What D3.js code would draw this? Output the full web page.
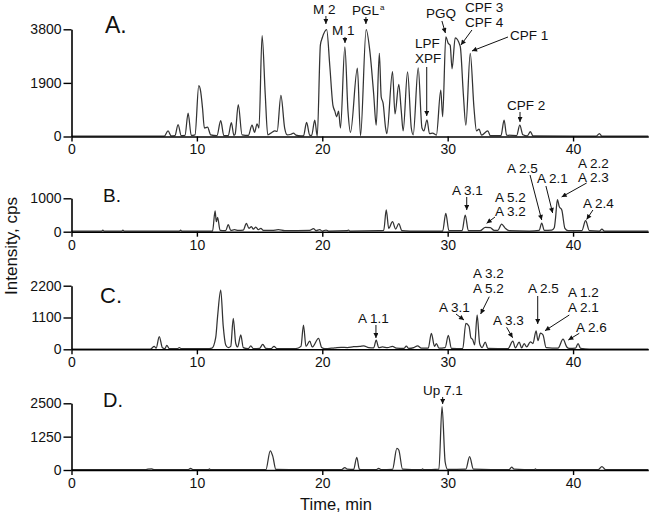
<!DOCTYPE html>
<html>
<head>
<meta charset="utf-8">
<script src="https://cdn.jsdelivr.net/npm/d3@7"></script>
<style>
  body { margin: 0; background: #fff; }
  svg { display: block; font-family: "Liberation Sans", Arial, sans-serif; }
</style>
</head>
<body>
<svg id="chart" width="650" height="515"></svg>
<script>
// retention time (min), intensity (cps)
const traceA = [
  [0, 15], [7.4, 10], [7.7, 200], [7.95, 20], [8.25, 30], [8.5, 420], [8.75, 30],
  [9.05, 40], [9.3, 830], [9.55, 40], [9.85, 60], [10.15, 1800], [10.3, 1600], [10.45, 1000],
  [10.6, 300], [10.85, 330], [11.1, 60], [11.6, 30], [11.9, 560], [12.15, 30], [12.5, 30],
  [12.75, 490], [12.95, 40], [13.05, 80], [13.3, 1130], [13.6, 60], [14.1, 40], [14.4, 400],
  [14.6, 150], [14.8, 450], [14.95, 300], [15.2, 3580], [15.45, 1500], [15.65, 60], [16.0, 150],
  [16.2, 200], [16.4, 180], [16.7, 1460], [17.0, 300], [17.2, 60], [17.5, 80], [17.7, 120],
  [17.9, 50], [18.3, 20], [18.5, 20], [18.75, 500], [19.0, 40], [19.15, 40], [19.4, 580],
  [19.6, 10], [19.85, 3250], [20.0, 3500], [20.35, 3790], [20.6, 2500], [20.85, 1100],
  [21.0, 900], [21.15, 700], [21.3, 900], [21.45, 300], [21.8, 3180], [22.05, 900], [22.25, 150],
  [22.8, 2420], [23.05, 30], [23.5, 3790], [23.8, 3000], [24.1, 1500], [24.3, 400],
  [24.55, 2950], [24.7, 1400], [24.85, 1180], [25.05, 300], [25.15, 100], [25.6, 2300],
  [25.8, 800], [26.1, 1850], [26.3, 900], [26.45, 200], [26.8, 2290], [27.1, 300], [27.25, 60],
  [27.65, 2430], [27.95, 300], [28.1, 200], [28.35, 590], [28.55, 100], [28.8, 120], [29.1, 50],
  [29.45, 1640], [29.6, 700], [29.85, 3530], [30.05, 3300], [30.2, 3230], [30.35, 2400],
  [30.6, 3500], [31.0, 3200], [31.25, 1500], [31.45, 400], [31.8, 2950], [32.1, 1000],
  [32.3, 200], [32.5, 260], [32.7, 50], [33.2, 200], [33.4, 30], [34.25, 30], [34.5, 580],
  [34.7, 50], [35.5, 30], [35.75, 400], [36.0, 60], [36.35, 20], [36.6, 170], [36.8, 20],
  [41.85, 10], [42.1, 100], [42.3, 10], [46, 10]
];

const traceB = [
  [0, 20], [2.4, 20], [2.5, 50], [2.6, 20], [4, 20], [4.1, 50], [4.2, 20], [8.6, 20], [8.7, 50],
  [8.8, 20], [11.25, 20], [11.45, 620], [11.55, 300], [11.65, 430], [11.85, 40], [12.3, 30],
  [12.5, 210], [12.7, 40], [13.0, 60], [13.3, 40], [13.7, 50], [13.95, 250], [14.15, 100],
  [14.35, 150], [14.5, 80], [14.7, 140], [14.9, 60], [15.1, 100], [15.3, 40], [16.0, 40],
  [16.5, 60], [17, 30], [19.0, 40], [19.3, 90], [19.5, 30], [19.8, 60], [20.0, 20], [20.3, 50],
  [20.5, 20], [22.0, 30], [22.1, 50], [22.2, 20], [24.5, 30], [24.9, 40], [25.1, 650],
  [25.3, 100], [25.6, 300], [25.85, 80], [26.1, 240], [26.35, 30], [27, 20], [29.6, 20],
  [29.85, 550], [30.1, 30], [31.15, 30], [31.4, 500], [31.65, 30], [32.6, 30], [33.0, 130],
  [33.4, 120], [33.7, 40], [34.0, 40], [34.3, 230], [34.6, 100], [34.9, 30], [36.5, 20],
  [37.3, 40], [37.5, 260], [37.7, 40], [38.3, 50], [38.5, 120], [38.6, 400], [38.75, 960],
  [38.9, 750], [39.1, 650], [39.35, 100], [39.6, 30], [40.7, 30], [41.0, 330], [41.3, 30],
  [42.1, 20], [42.3, 80], [42.5, 20], [46, 20]
];

const traceC = [
  [0, 10], [6.3, 10], [6.6, 100], [6.75, 40], [7.0, 440], [7.25, 50], [7.45, 20], [7.6, 140],
  [7.8, 20], [8.45, 20], [8.6, 60], [8.75, 20], [10.8, 20], [11.2, 40], [11.5, 400],
  [11.65, 1130], [11.9, 2050], [12.1, 800], [12.3, 150], [12.5, 60], [12.7, 100], [12.9, 1070],
  [13.1, 200], [13.25, 80], [13.5, 500], [13.7, 60], [14.1, 20], [14.3, 120], [14.5, 20],
  [15.0, 30], [15.25, 170], [15.5, 30], [15.9, 20], [16.15, 100], [16.4, 20], [17.9, 20],
  [18.3, 100], [18.5, 840], [18.7, 100], [19.0, 280], [19.2, 80], [19.7, 380], [19.95, 60],
  [20.2, 20], [21.0, 50], [21.5, 70], [22, 60], [22.5, 90], [23.0, 100], [23.3, 120],
  [23.7, 60], [24.1, 50], [24.3, 320], [24.5, 60], [24.8, 80], [25.2, 60], [25.6, 100],
  [25.9, 40], [26.5, 30], [26.7, 110], [26.9, 30], [27.3, 60], [27.6, 120], [27.9, 40],
  [28.45, 40], [28.7, 550], [28.95, 100], [29.1, 200], [29.3, 40], [29.8, 60], [30.05, 480],
  [30.3, 30], [31.2, 20], [31.45, 900], [31.7, 800], [31.85, 400], [32.0, 330], [32.15, 150],
  [32.35, 1190], [32.55, 200], [32.75, 60], [33.0, 250], [33.2, 30], [34.8, 20], [35.2, 280],
  [35.4, 50], [35.7, 250], [35.9, 50], [36.1, 200], [36.3, 80], [36.6, 260], [36.8, 200],
  [37.05, 640], [37.2, 300], [37.4, 560], [37.6, 500], [37.85, 60], [38.8, 40], [39.2, 350],
  [39.5, 80], [39.7, 30], [40.2, 40], [40.4, 200], [40.6, 30], [41.3, 10], [46, 10]
];

const traceD = [
  [0, 10], [5.9, 10], [6.1, 30], [6.4, 40], [6.6, 10], [9.3, 10], [9.5, 60], [9.7, 10],
  [10.9, 10], [11.0, 40], [11.1, 10], [15.5, 10], [15.85, 720], [16.05, 520], [16.3, 20],
  [21.5, 10], [21.8, 90], [22.0, 30], [22.5, 20], [22.75, 475], [22.95, 40], [23.1, 10],
  [24.3, 10], [24.5, 60], [24.7, 10], [25.6, 20], [25.95, 810], [26.1, 750], [26.4, 30],
  [27.9, 10], [28.0, 40], [28.1, 10], [29.3, 30], [29.55, 2375], [29.8, 300], [30.0, 20],
  [31.45, 30], [31.75, 500], [32.05, 30], [34.9, 10], [35.1, 110], [35.3, 30], [36.9, 10],
  [37.0, 40], [37.1, 10], [42.0, 10], [42.3, 130], [42.6, 10], [46, 10]
];

const timeTicks = [0, 10, 20, 30, 40];
const ticksA = [0, 1900, 3800];
const ticksB = [0, 1000];
const ticksC = [0, 1100, 2200];
const ticksD = [0, 1250, 2500];

// peak labels: text lines and the (time, intensity) the arrow points at
const notesA = [
  { lines: ["M 2"], at: [20.29, 3988], tail: [0, -8], label: [-13, -10] },
  { lines: ["M 1"], at: [21.81, 3315], tail: [0, -6], label: [-13, -8] },
  { lines: ["PGL"], sup: "a", at: [23.48, 3988], tail: [0, -7], label: [-14, -9] },
  { lines: ["PGQ"], at: [29.82, 3669], tail: [-3.5, -12], label: [-19.5, -15] },
  { lines: ["CPF 3", "CPF 4"], at: [31.06, 3244], tail: [11, -15], label: [4, -33] },
  { lines: ["CPF 1"], at: [31.94, 3031], tail: [36, -14], label: [38, -11] },
  { lines: ["LPF", "XPF"], at: [28.33, 727], tail: [0, -49], label: [-11.7, -68] },
  { lines: ["CPF 2"], at: [35.77, 514], tail: [0, -10], label: [-13, -12] }
];
const notesB = [
  { lines: ["A 3.1"], at: [31.52, 650], tail: [0, -13], label: [-14.7, -15] },
  { lines: ["A 5.2", "A 3.2"], at: [33.11, 251], tail: [8.3, -6.3], label: [8.3, -21.3] },
  { lines: ["A 2.5"], at: [37.5, 350], tail: [-11.7, -45], label: [-34.7, -47] },
  { lines: ["A 2.1"], at: [38.37, 560], tail: [-6.7, -27], label: [-15.7, -30] },
  { lines: ["A 2.2", "A 2.3"], at: [39.09, 1039], tail: [25, -14], label: [16.3, -29] },
  { lines: ["A 2.4"], at: [41.08, 365], tail: [6.3, -9.5], label: [-3.7, -11.5] }
];
const notesC = [
  { lines: ["A 1.1"], at: [24.28, 391], tail: [0, -13], label: [-18, -15] },
  { lines: ["A 3.1"], at: [31.3, 1013], tail: [-8, -6], label: [-25, -8] },
  { lines: ["A 3.2", "A 5.2"], at: [32.63, 1221], tail: [8.6, -17.3], label: [-7.7, -36] },
  { lines: ["A 3.3"], at: [35.18, 401], tail: [-6, -10.4], label: [-19.7, -12.7] },
  { lines: ["A 2.5"], at: [37.18, 875], tail: [0, -28], label: [-9.7, -31] },
  { lines: ["A 1.2", "A 2.1"], at: [37.76, 643], tail: [24.3, -15.7], label: [23, -33.7] },
  { lines: ["A 2.6"], at: [39.62, 322], tail: [11, -6.7], label: [7.7, -8] }
];
const notesD = [
  { lines: ["Up 7.1"], at: [29.6, 2474], tail: [0, -7], label: [-19.7, -9] }
];

const svg = d3.select("#chart");

svg.append("defs").append("marker")
  .attr("id", "arrow")
  .attr("viewBox", "0 0 10 10")
  .attr("refX", 10)
  .attr("refY", 5)
  .attr("markerWidth", 6)
  .attr("markerHeight", 5)
  .attr("markerUnits", "userSpaceOnUse")
  .attr("orient", "auto")
  .append("path")
  .attr("d", "M0,0L10,5L0,10z")
  .attr("fill", "#111");

const x = d3.scaleLinear().domain([0, 46]).range([71.5, 648.3]);

const panels = [
  { name: "A.", data: traceA, ticks: ticksA, notes: notesA, top: 29.3, base: 136.5, nameX: 105, nameY: 33, nameSize: 23, gap: 15 },
  { name: "B.", data: traceB, ticks: ticksB, notes: notesB, top: 198.3, base: 231.7, nameX: 103, nameY: 202, nameSize: 19, gap: 14 },
  { name: "C.", data: traceC, ticks: ticksC, notes: notesC, top: 285.7, base: 349.3, nameX: 100, nameY: 303, nameSize: 22, gap: 15 },
  { name: "D.", data: traceD, ticks: ticksD, notes: notesD, top: 403.3, base: 470, nameX: 103, nameY: 407, nameSize: 20, gap: 15 }
];

panels.forEach(p => {
  const y = d3.scaleLinear().domain([0, d3.max(p.ticks)]).range([p.base, p.top]);
  const g = svg.append("g");

  const line = d3.line()
    .x(d => x(d[0]))
    .y(d => y(d[1]))
    .curve(d3.curveMonotoneX);

  g.append("path")
    .datum(p.data)
    .attr("fill", "none")
    .attr("stroke", "#333")
    .attr("stroke-width", 1.25)
    .attr("stroke-linejoin", "round")
    .attr("d", line);

  const yAxis = g.append("g")
    .attr("transform", `translate(${x(0)},0)`)
    .call(d3.axisLeft(y).tickValues(p.ticks).tickFormat(d3.format("d"))
      .tickSize(8).tickPadding(2).tickSizeOuter(0));

  const xAxis = g.append("g")
    .attr("transform", `translate(0,${p.base})`)
    .call(d3.axisBottom(x).tickValues(timeTicks).tickFormat(d3.format("d"))
      .tickSize(5).tickPadding(3).tickSizeOuter(0));

  [yAxis, xAxis].forEach(a => {
    a.select(".domain").attr("stroke", "#000").attr("stroke-width", 1.6);
    a.selectAll(".tick line").attr("stroke", "#000").attr("stroke-width", 1.4);
    a.selectAll("text").attr("font-size", 14).attr("font-family", "Liberation Sans, Arial, sans-serif").attr("fill", "#111");
  });

  g.append("text")
    .attr("x", p.nameX)
    .attr("y", p.nameY)
    .attr("font-size", p.nameSize)
    .attr("fill", "#111")
    .text(p.name);

  p.notes.forEach(n => {
    const tx = x(n.at[0]), ty = y(n.at[1]);
    g.append("line")
      .attr("x1", tx + n.tail[0])
      .attr("y1", ty + n.tail[1])
      .attr("x2", tx)
      .attr("y2", ty)
      .attr("stroke", "#111")
      .attr("stroke-width", 1)
      .attr("marker-end", "url(#arrow)");

    const t = g.append("text")
      .attr("font-size", 13.5)
      .attr("fill", "#111");
    n.lines.forEach((s, i) => {
      t.append("tspan")
        .attr("x", tx + n.label[0])
        .attr("y", ty + n.label[1] + i * p.gap)
        .text(s);
    });
    if (n.sup) {
      t.append("tspan")
        .attr("font-size", 8)
        .attr("dx", 1)
        .attr("dy", -5)
        .text(n.sup);
    }
  });
});

svg.append("text")
  .attr("transform", "translate(17,246) rotate(-90)")
  .attr("text-anchor", "middle")
  .attr("font-size", 17)
  .attr("fill", "#111")
  .text("Intensity, cps");

svg.append("text")
  .attr("x", 300)
  .attr("y", 510)
  .attr("font-size", 16.5)
  .attr("fill", "#111")
  .text("Time, min");
</script>
</body>
</html>
